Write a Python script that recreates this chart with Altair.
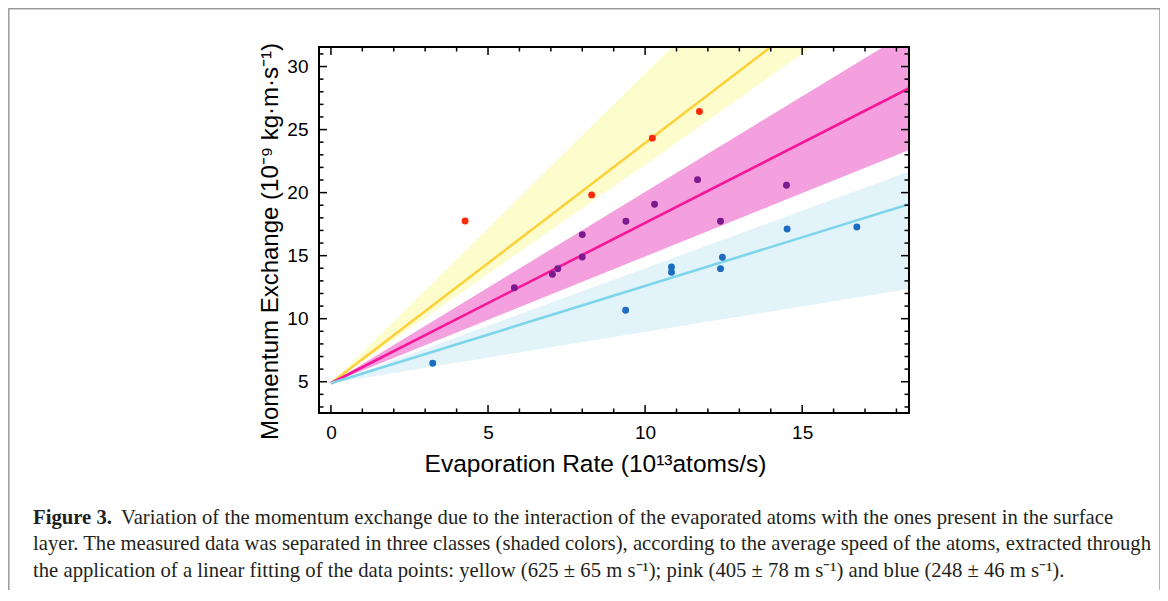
import altair as alt
import pandas as pd

# ---------------- data ----------------
# measured points, three speed classes
yel_x = [4.27, 8.30, 10.23, 11.73]
yel_y = [17.75, 19.82, 24.32, 26.43]
pink_x = [5.84, 7.05, 7.22, 8.00, 8.00, 9.39, 10.30, 11.67, 12.40, 14.50]
pink_y = [12.46, 13.52, 13.97, 14.90, 16.67, 17.73, 19.08, 21.03, 17.73, 20.58]
blue_x = [3.24, 9.38, 10.84, 10.84, 12.46, 12.40, 14.52, 16.74]
blue_y = [6.46, 10.67, 14.10, 13.68, 14.87, 13.97, 17.12, 17.28]

# fitted lines (end points)
yel_fit_x = [0.0, 14.0]
yel_fit_y = [4.88, 31.55]
pink_fit_x = [0.0, 18.4]
pink_fit_y = [4.88, 28.28]
blue_fit_x = [0.0, 18.4]
blue_fit_y = [4.88, 19.08]

# shaded bands (edges)
yel_band_x = [0.0, 10.85, 15.3]
yel_band_lo = [4.88, 23.70, 31.55]
yel_band_hi = [4.88, 31.55, 31.55]
pink_band_x = [0.0, 17.58, 18.4]
pink_band_lo = [4.88, 22.55, 23.39]
pink_band_hi = [4.88, 31.55, 31.55]
blue_band_x = [0.0, 18.4]
blue_band_lo = [4.88, 12.36]
blue_band_hi = [4.88, 21.67]

# axis ticks
x_major = [0, 5, 10, 15]
x_minor = [1, 2, 3, 4, 6, 7, 8, 9, 11, 12, 13, 14, 16, 17, 18]
y_major = [5, 10, 15, 20, 25, 30]
y_minor = [3, 4, 6, 7, 8, 9, 11, 12, 13, 14, 16, 17, 18, 19, 21, 22, 23, 24,
           26, 27, 28, 29, 31]
x_domain = [-0.38, 18.4]
y_domain = [2.52, 31.55]

x_title = "Evaporation Rate (10¹³atoms/s)"
y_title = "Momentum Exchange (10⁻⁹ kg·m·s⁻¹)"

cap_bold = "Figure 3."
cap_l1 = ("Variation of the momentum exchange due to the interaction of the "
          "evaporated atoms with the ones present in the surface")
cap_l2 = ("layer. The measured data was separated in three classes (shaded colors), "
          "according to the average speed of the atoms, extracted through")
cap_l3 = ("the application of a linear fitting of the data points: yellow "
          "(625 ± 65 m s⁻¹); pink (405 ± 78 m s⁻¹) and blue (248 ± 46 m s⁻¹).")

# ---------------- chart ----------------
W, H = 590, 366
XS = alt.Scale(domain=x_domain, nice=False, zero=False)
YS = alt.Scale(domain=y_domain, nice=False, zero=False)
XA = alt.Axis(values=x_major, ticks=False, domain=False, grid=False,
              labelFontSize=19, labelPadding=10, title=x_title,
              titleFontSize=24.5, titleX=276, titleY=58,
              titleBaseline="alphabetic", titleAlign="center")
YA = alt.Axis(values=y_major, ticks=False, domain=False, grid=False,
              labelFontSize=19, labelPadding=11, title=y_title,
              titleFontSize=24, titleX=-42, titleY=194, titleAngle=270,
              titleBaseline="alphabetic", titleAlign="center")


def X(f="x"):
    return alt.X(f"{f}:Q", scale=XS, axis=XA)


def Y(f="y"):
    return alt.Y(f"{f}:Q", scale=YS, axis=YA)


def band(xs, lo, hi, color):
    df = pd.DataFrame({"x": xs, "y": lo, "hi": hi})
    return alt.Chart(df).mark_area(color=color, opacity=1, clip=True).encode(
        x=X(), y=Y(), y2="hi:Q")


def line(xs, ys, color):
    df = pd.DataFrame({"x": xs, "y": ys})
    return alt.Chart(df).mark_line(color=color, strokeWidth=2.6, clip=True).encode(
        x=X(), y=Y())


def pts(xs, ys, color):
    df = pd.DataFrame({"x": xs, "y": ys})
    return alt.Chart(df).mark_circle(color=color, size=48, opacity=1).encode(
        x=X(), y=Y())


def xticks(vals, length, top):
    df = pd.DataFrame({"x": vals})
    if top:
        yy = dict(y=alt.value(0), y2=alt.value(length))
    else:
        yy = dict(y=alt.value(H), y2=alt.value(H - length))
    return alt.Chart(df).mark_rule(color="black", strokeWidth=1.5).encode(x=X(), **yy)


def yticks(vals, length, right):
    df = pd.DataFrame({"y": vals})
    if right:
        xx = dict(x=alt.value(W), x2=alt.value(W - length))
    else:
        xx = dict(x=alt.value(0), x2=alt.value(length))
    return alt.Chart(df).mark_rule(color="black", strokeWidth=1.5).encode(y=Y(), **xx)


one = pd.DataFrame({"t": [""]})


def caption(txt, px, py, bold=False):
    return alt.Chart(pd.DataFrame({"t": [txt]})).mark_text(
        align="left", baseline="alphabetic", font="Liberation Serif",
        fontSize=20.7, fontWeight="bold" if bold else "normal", color="#231f20"
    ).encode(text="t:N", x=alt.value(px), y=alt.value(py))


frame = alt.Chart(one).mark_rect(filled=False, stroke="black", strokeWidth=2).encode(
    x=alt.value(0), x2=alt.value(W), y=alt.value(0), y2=alt.value(H))
outer = alt.Chart(one).mark_rect(filled=False, stroke="#9a9a9a", strokeWidth=1.5).encode(
    x=alt.value(-310.2), x2=alt.value(841), y=alt.value(-38.2), y2=alt.value(600))

OX, OY = 319, 47  # plot origin on the page

layers = [
    band(yel_band_x, yel_band_lo, yel_band_hi, "#fdfccc"),
    band(pink_band_x, pink_band_lo, pink_band_hi, "#f5a0de"),
    band(blue_band_x, blue_band_lo, blue_band_hi, "#e2f4fa"),
    line(yel_fit_x, yel_fit_y, "#fcd23c"),
    line(pink_fit_x, pink_fit_y, "#f7169a"),
    line(blue_fit_x, blue_fit_y, "#7dd5ea"),
    pts(yel_x, yel_y, "#ff2a0a"),
    pts(pink_x, pink_y, "#7b1a8f"),
    pts(blue_x, blue_y, "#1c6dbf"),
    xticks(x_major, 8, False), xticks(x_minor, 4.5, False),
    xticks(x_major, 8, True), xticks(x_minor, 4.5, True),
    yticks(y_major, 8, False), yticks(y_minor, 4.5, False),
    yticks(y_major, 8, True), yticks(y_minor, 4.5, True),
    frame,
    outer,
    caption(cap_bold, 33 - OX, 524 - OY, bold=True),
    caption(cap_l1, 121 - OX, 524 - OY),
    caption(cap_l2, 33 - OX, 550 - OY),
    caption(cap_l3, 33 - OX, 577 - OY),
]

chart = alt.layer(*layers).properties(
    width=W, height=H,
    padding={"left": 311, "top": 39, "right": 251, "bottom": 177},
    autosize=alt.AutoSizeParams(type="none"),
).configure_view(stroke=None).configure_axis(
    labelFont="Liberation Sans", titleFont="Liberation Sans",
    labelColor="black", titleColor="black", titleFontWeight="normal"
)

chart.save("out.html", embed_options={"renderer": "svg", "actions": False})
